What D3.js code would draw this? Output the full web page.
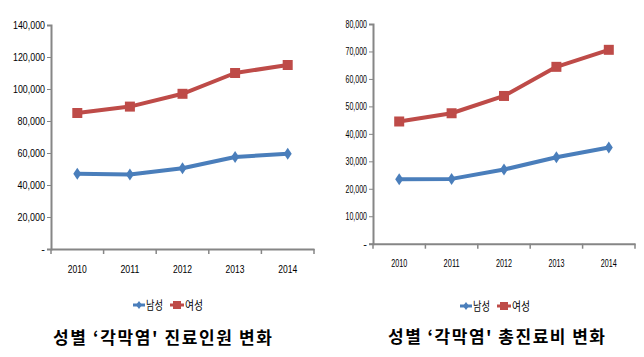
<!DOCTYPE html>
<html><head><meta charset="utf-8">
<script src="https://cdn.jsdelivr.net/npm/d3@7/dist/d3.min.js"></script>
<style>html,body{margin:0;padding:0;background:#fff;}svg{display:block;}</style>
</head><body>
<script>
const years = ["2010","2011","2012","2013","2014"];
const seriesNames = ["남성","여성"];
// Chart 1: 진료인원
const patientsMale = [47000, 46500, 50500, 57500, 59500];
const patientsFemale = [85000, 89000, 97000, 110000, 115000];
const patientsTicks = [0, 20000, 40000, 60000, 80000, 100000, 120000, 140000];
// Chart 2: 총진료비
const costMale = [23500, 23600, 27000, 31500, 35000];
const costFemale = [44500, 47500, 53800, 64400, 70600];
const costTicks = [0, 10000, 20000, 30000, 40000, 50000, 60000, 70000, 80000];
const titles = ["성별 ‘각막염' 진료인원 변화", "성별 ‘각막염' 총진료비 변화"];

const W = 644, H = 357;
const svg = d3.select("body").append("svg").attr("width", W).attr("height", H);
const blue = "#4A7EBB", red = "#BE4B48", axisCol = "#868686";
const fmt = d3.format(",");

function draw(cfg) {
  const g = svg.append("g");
  const x = d3.scaleBand().domain(years).range([cfg.x0, cfg.x1]).padding(0);
  const y = d3.scaleLinear().domain([0, cfg.max]).range([cfg.y0, cfg.y1]);
  const cx = d => x(d) + x.bandwidth() / 2;

  // y axis
  const ya = d3.axisLeft(y).tickValues(cfg.ticks).tickSize(4).tickFormat(d => d === 0 ? "-" : fmt(d));
  const yg = g.append("g").attr("transform", `translate(${cfg.x0},0)`).call(ya);
  yg.select(".domain").attr("stroke", axisCol).attr("stroke-width", 2);
  yg.selectAll(".tick line").attr("stroke", axisCol);
  yg.selectAll(".tick text").attr("font-family", "Liberation Sans Narrow, Liberation Sans, sans-serif")
    .attr("font-size", 11).attr("fill", "#000").attr("x", -6)
    .each(function(d){ if (d !== 0) d3.select(this).attr("textLength", cfg.ylabW * String(fmt(d)).length / 7).attr("lengthAdjust", "spacingAndGlyphs"); });

  // x axis
  const xa = d3.axisBottom(x).tickSize(0).tickPadding(16);
  const xg = g.append("g").attr("transform", `translate(0,${cfg.y0})`).call(xa);
  xg.select(".domain").attr("stroke", axisCol).attr("stroke-width", 2);
  xg.selectAll(".tick text").attr("font-family", "Liberation Sans Narrow, Liberation Sans, sans-serif")
    .attr("font-size", 11).attr("fill", "#000").attr("dy", cfg.xlabDy)
    .attr("textLength", cfg.xlabW).attr("lengthAdjust", "spacingAndGlyphs");
  const bounds = years.map(d => x(d)).concat([cfg.x1]);
  xg.selectAll(".bt").data(bounds).enter().append("line")
    .attr("x1", d => d).attr("x2", d => d).attr("y1", 0).attr("y2", 5)
    .attr("stroke", axisCol).attr("stroke-width", 1.5);

  const line = d3.line().x((d, i) => cx(years[i])).y(d => y(d));
  // female
  g.append("path").datum(cfg.female).attr("d", line).attr("fill", "none").attr("stroke", red).attr("stroke-width", 4).attr("stroke-linejoin", "round");
  g.selectAll(".sq").data(cfg.female).enter().append("rect")
    .attr("x", (d, i) => cx(years[i]) - 5).attr("y", d => y(d) - 5).attr("width", 10).attr("height", 10).attr("fill", red);
  // male
  g.append("path").datum(cfg.male).attr("d", line).attr("fill", "none").attr("stroke", blue).attr("stroke-width", 4).attr("stroke-linejoin", "round");
  const diamond = "M0,-6L4,0L0,6L-4,0Z";
  g.selectAll(".dm").data(cfg.male).enter().append("path")
    .attr("d", diamond).attr("transform", (d, i) => `translate(${cx(years[i])},${y(d)})`).attr("fill", blue);

  // legend
  const lg = g.append("g").attr("transform", `translate(${cfg.legX},${cfg.legY})`);
  lg.append("line").attr("x1", 0).attr("x2", 12).attr("y1", 0).attr("y2", 0).attr("stroke", blue).attr("stroke-width", 3);
  lg.append("path").attr("d", "M0,-4L3,0L0,4L-3,0Z").attr("transform", "translate(6,0)").attr("fill", blue);
  lg.append("text").attr("x", 13).attr("y", 5).text(seriesNames[0]).attr("font-family", "Noto Sans CJK KR").attr("font-size", 12)
    .attr("textLength", 17).attr("lengthAdjust", "spacingAndGlyphs");
  lg.append("line").attr("x1", 37).attr("x2", 51).attr("y1", 0).attr("y2", 0).attr("stroke", red).attr("stroke-width", 3);
  lg.append("rect").attr("x", 40).attr("y", -4).attr("width", 8).attr("height", 8).attr("fill", red);
  lg.append("text").attr("x", 52).attr("y", 5).text(seriesNames[1]).attr("font-family", "Noto Sans CJK KR").attr("font-size", 12)
    .attr("textLength", 18).attr("lengthAdjust", "spacingAndGlyphs");

  // title
  g.append("text").attr("x", cfg.titleX).attr("y", cfg.titleY).text(cfg.title)
    .attr("font-family", "Noto Sans CJK KR").attr("font-weight", "bold").attr("font-size", 17).attr("fill", "#000")
    .attr("textLength", cfg.titleW).attr("lengthAdjust", "spacing");
}

draw({x0: 51, x1: 314, y0: 249, y1: 25, max: 140000, ticks: patientsTicks, male: patientsMale, female: patientsFemale,
  ylabW: 32, xlabW: 19, xlabDy: "0.71em", legX: 133, legY: 305, title: titles[0], titleX: 53, titleY: 344, titleW: 219});
draw({x0: 373, x1: 635, y0: 243.7, y1: 24, max: 80000, ticks: costTicks, male: costMale, female: costFemale,
  ylabW: 25, xlabW: 16, xlabDy: "0.71em", legX: 460, legY: 306, title: titles[1], titleX: 388, titleY: 343, titleW: 217});
</script>
</body></html>
